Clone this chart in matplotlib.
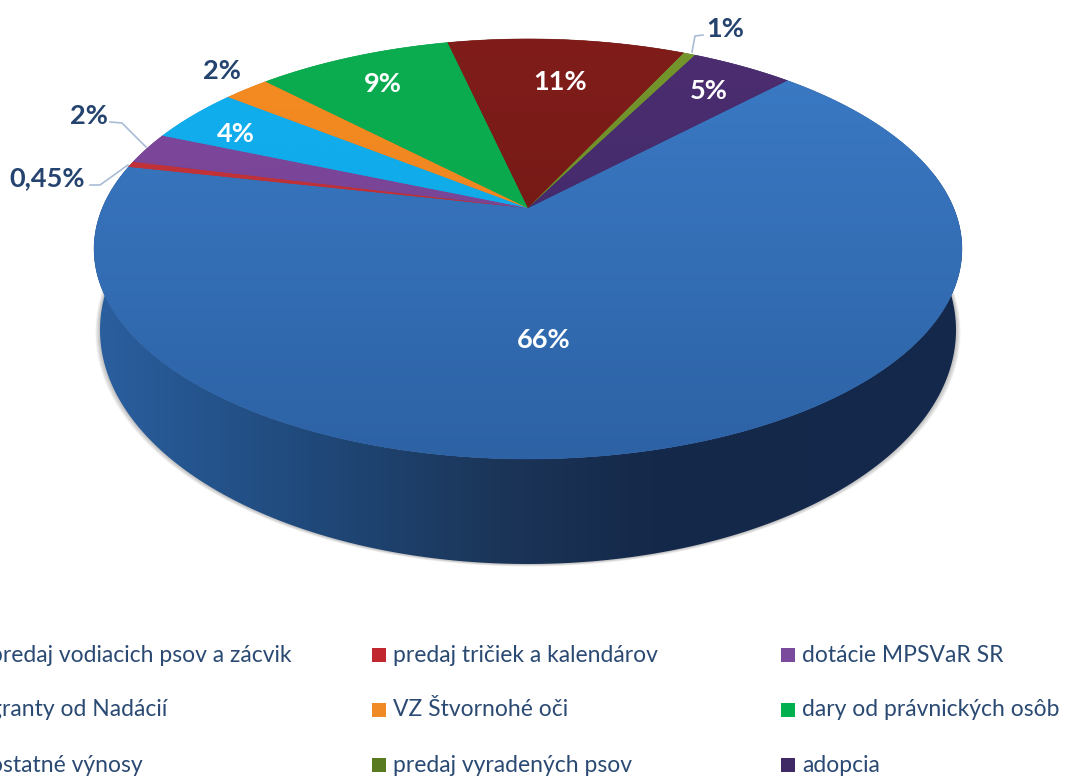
import numpy as np
import matplotlib
matplotlib.use('Agg')
import matplotlib.pyplot as plt
from matplotlib.colors import to_rgb
from matplotlib.patches import Polygon, Rectangle

plt.rcParams['font.family'] = ['Lato', 'DejaVu Sans']

categories = ['predaj vodiacich psov a zácvik', 'predaj tričiek a kalendárov', 'dotácie MPSVaR SR',
              'granty od Nadácií', 'VZ Štvornohé oči', 'dary od právnických osôb',
              'ostatné výnosy', 'predaj vyradených psov', 'adopcia']
shares = [66.2, 0.45, 2.44, 4.25, 2.08, 8.78, 10.69, 0.53, 4.61]
value_labels = ['66%', '0,45%', '2%', '4%', '2%', '9%', '11%', '1%', '5%']

top_colors = ['#3b7bc6', '#c9343c', '#80499f', '#10afef', '#f58b22', '#0aad50', '#801d1b', '#74962c', '#4c2d70']
low_colors = ['#2d62a5', '#b02c30', '#6f3f8a', '#10a4e0', '#e67f1c', '#0aa34a', '#69160f', '#68862a', '#3a2a68']
marker_colors = ['#3a6fb5', '#c0272f', '#7a4a9c', '#10afef', '#f08a24', '#00b050', '#7f1d1b', '#5a7a22', '#3f2a66']

label_pos = [(544, 340), (47, 178), (89, 116), (236, 134), (222, 71), (383, 84), (560, 82), (725, 29), (709, 91)]
label_color = ['white', '#24436e', '#24436e', 'white', '#24436e', 'white', 'white', '#24436e', 'white']
leaders = [([90, 100, 128], [185, 185, 165]),
           ([110, 122, 146], [122, 123, 147]),
           ([703, 695, 692], [35, 36, 52])]

W, H = 1069, 778
START = 44.0


def rim(theta, r=1.0):
    # top face: a disc seen in perspective, theta clockwise from the far side
    t = np.radians(theta)
    u, v = r * np.sin(t), r * np.cos(t)
    w = 1 + 0.195 * v
    return 528 + 425.6 * u / w, 208 - 202 * v / w


def lower_rim(theta):
    t = np.radians(theta)
    return 528 + 428 * np.sin(t), 330 - 234 * np.cos(t)


def ramp(c1, c2, n=256):
    a, b = np.array(to_rgb(c1)), np.array(to_rgb(c2))
    f = np.linspace(0, 1, n)[:, None]
    return (a + (b - a) * f)[:, None, :]


fig = plt.figure(figsize=(W / 100, H / 100), dpi=100)
ax = fig.add_axes([0, 0, 1, 1])

# soft shadow round the lower edge
th = np.linspace(60, 300, 200)
lx, ly = lower_rim(th)
for k in range(1, 6):
    ax.add_patch(Polygon(np.c_[lx + k * 0.9 * np.sin(np.radians(th)), ly + k * 0.5], closed=True,
                         fc='#404040', ec='none', alpha=0.07, zorder=1))

# side of the drum
th = np.linspace(80, 285, 300)
tx, ty = rim(th)
bx, by = lower_rim(th)
side = Polygon(np.r_[np.c_[tx, ty], np.c_[bx, by][::-1]], closed=True, fc='none', ec='none')
ax.add_patch(side)
xs = np.arange(W)
stops_x = [95, 300, 500, 650, 960]
stops_c = np.array([to_rgb(c) for c in ['#2a5f9f', '#204a7c', '#1b3558', '#15294a', '#13284a']])
grad = np.stack([np.interp(xs, stops_x, stops_c[:, i]) for i in range(3)], axis=1)[None, :, :]
im = ax.imshow(grad, extent=(0, W, H, 0), aspect='auto', zorder=2)
im.set_clip_path(side)

# top face slices
edges = START + np.r_[0, np.cumsum(shares)] * 360 / np.sum(shares)
for i in range(len(shares)):
    th = np.linspace(edges[i], edges[i + 1], 200)
    x, y = rim(th)
    wedge = Polygon(np.r_[[[528, 208]], np.c_[x, y]], closed=True, fc='none', ec='none')
    ax.add_patch(wedge)
    im = ax.imshow(ramp(top_colors[i], low_colors[i]), extent=(0, W, 462, 38), aspect='auto', zorder=3)
    im.set_clip_path(wedge)
    # thin fill under the gradient so neighbours leave no seam
    ax.add_patch(Polygon(np.r_[[[528, 208]], np.c_[x, y]], closed=True, fc=low_colors[i], ec=low_colors[i],
                         lw=0.4, zorder=2.5))

for lx, ly in leaders:
    ax.plot(lx, ly, color='#a9bcd6', lw=1.2, zorder=4)

for i in range(len(shares)):
    ax.text(label_pos[i][0], label_pos[i][1], value_labels[i], color=label_color[i], fontsize=19.5,
            fontweight='bold', ha='center', va='center', zorder=5)

# legend, three columns; the left one runs off the picture
col_x = [-10, 393, 802]
row_y = [655, 710, 765]
for i in range(len(categories)):
    cx, cy = col_x[i % 3], row_y[i // 3]
    ax.add_patch(Rectangle((cx - 21, cy - 7), 14, 14, fc=marker_colors[i], ec='none', zorder=5))
    ax.text(cx, cy, categories[i], color='#2b4a73', fontsize=16.5, ha='left', va='center', zorder=5)

ax.set_xlim(0, W)
ax.set_ylim(H, 0)
ax.axis('off')
fig.savefig('out.png', dpi=100)
